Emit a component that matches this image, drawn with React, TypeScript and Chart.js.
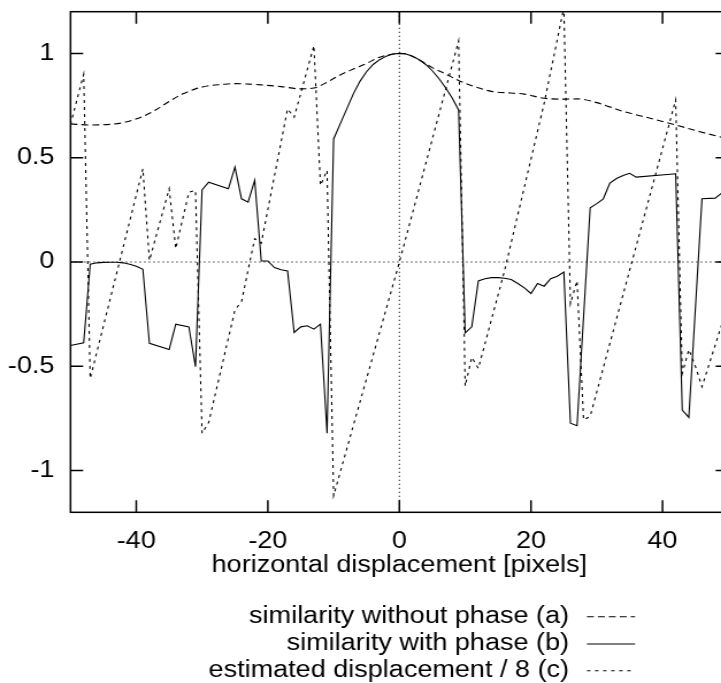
import React, { useEffect, useRef } from 'react';
import { Chart, registerables } from 'chart.js';

Chart.register(...registerables);

const FONT = '"Liberation Sans", Arial, Helvetica, sans-serif';
const STRETCH = 1.15; // the reference text is wider than it is tall

const X_TICKS = [-40, -20, 0, 20, 40];
const Y_TICKS = [-1, -0.5, 0, 0.5, 1];
const X_TITLE = 'horizontal displacement [pixels]';

const SERIES_LABELS = [
  'similarity without phase (a)',
  'similarity with phase (b)',
  'estimated displacement / 8 (c)',
];

// (a) similarity without phase
const xA = [-50, -47, -44, -42, -39, -37, -35, -33, -31, -29, -27, -25, -23, -21, -18, -15, -13, -11, -9, -7, -5, -3, -1, 0, 1, 3, 5, 7, 9, 11, 14, 17, 19, 22, 25, 27, 30, 34, 38, 42, 46, 50];
const yA = [0.662, 0.657, 0.66, 0.668, 0.698, 0.73, 0.77, 0.805, 0.83, 0.845, 0.851, 0.855, 0.853, 0.849, 0.841, 0.83, 0.834, 0.862, 0.897, 0.925, 0.952, 0.982, 0.997, 1.0, 0.998, 0.968, 0.932, 0.902, 0.87, 0.845, 0.818, 0.81, 0.805, 0.785, 0.781, 0.782, 0.764, 0.722, 0.69, 0.657, 0.622, 0.59];

// (b) similarity with phase
const xB = [
  -50, -48, -47, -46, -45, -44, -43, -42, -41, -40,
  -39, -38, -35, -34, -32, -31, -30, -29, -26, -25,
  -24, -23, -22, -21, -20, -19, -18, -17, -16, -15,
  -14, -13, -12, -11, -10, -9, -8, -7, -6, -5,
  -4, -3, -2, -1, 0, 1, 2, 3, 4, 5,
  6, 7, 8, 9, 10, 11, 12, 13, 14, 15,
  16, 17, 18, 19, 20, 21, 22, 23, 24, 25,
  26, 27, 29, 30, 31, 32, 33, 34, 35, 36,
  42, 43, 44, 46, 48, 49, 50,
];
const yB = [
  -0.4, -0.387, -0.011, -0.004, -0.002, -0.001, -0.001, -0.004, -0.011, -0.02,
  -0.035, -0.39, -0.42, -0.298, -0.311, -0.502, 0.346, 0.383, 0.351, 0.455,
  0.303, 0.287, 0.391, 0.005, 0.005, -0.027, -0.037, -0.043, -0.338, -0.311,
  -0.306, -0.322, -0.298, -0.821, 0.59, 0.662, 0.734, 0.806, 0.866, 0.912,
  0.947, 0.97, 0.987, 0.997, 1.0, 0.997, 0.987, 0.97, 0.947, 0.917,
  0.88, 0.837, 0.787, 0.729, -0.34, -0.311, -0.091, -0.08, -0.075, -0.075,
  -0.078, -0.084, -0.103, -0.124, -0.151, -0.103, -0.116, -0.08, -0.068, -0.048,
  -0.773, -0.785, 0.26, 0.28, 0.303, 0.378, 0.4, 0.415, 0.425, 0.407,
  0.423, -0.71, -0.745, 0.303, 0.306, 0.33, 0.35,
];

// (c) estimated displacement / 8
const xC = [
  -50, -48, -47, -39, -38, -35, -34, -32, -31, -30,
  -29, -25, -24, -22, -21, -17, -16, -13, -12, -11,
  -10, 0, 9, 10, 11, 12, 16, 22, 25, 26,
  27, 28, 29, 42, 43, 44, 45, 46, 49, 50,
];
const yC = [
  0.66, 0.9, -0.558, 0.447, 0.008, 0.351, 0.064, 0.335, 0.343, -0.821,
  -0.77, -0.23, -0.19, 0.112, 0.09, 0.734, 0.694, 1.037, 0.367, 0.439,
  -1.12, 0.0, 1.06, -0.595, -0.457, -0.51, -0.04, 0.76, 1.22, -0.2,
  -0.09, -0.757, -0.74, 0.777, -0.534, -0.42, -0.5, -0.598, -0.3, -0.2,
];

const DASH_A = [6, 3.5];
const DASH_C = [3, 4];

const toPoints = (xs: number[], ys: number[]) => xs.map((x, i) => ({ x, y: ys[i] }));

// dotted zero axes under the data, gnuplot-style frame and inward ticks on top
const framePlugin = {
  id: 'frame',
  beforeDatasetsDraw(chart: any) {
    const { ctx, chartArea: a, scales } = chart;
    const x0 = scales.x.getPixelForValue(0);
    const y0 = scales.y.getPixelForValue(0);
    ctx.save();
    ctx.strokeStyle = '#222';
    ctx.lineWidth = 1;
    ctx.setLineDash([1.3, 2.7]);
    ctx.beginPath();
    ctx.moveTo(a.left, y0);
    ctx.lineTo(a.right, y0);
    ctx.moveTo(x0, a.top);
    ctx.lineTo(x0, a.bottom);
    ctx.stroke();
    ctx.restore();
  },
  afterDatasetsDraw(chart: any) {
    const { ctx, chartArea: a, scales } = chart;
    ctx.save();
    ctx.strokeStyle = '#000';
    ctx.lineWidth = 1.5;
    ctx.setLineDash([]);
    ctx.strokeRect(a.left, a.top, a.right - a.left, a.bottom - a.top);
    ctx.beginPath();
    X_TICKS.forEach((v) => {
      const px = scales.x.getPixelForValue(v);
      ctx.moveTo(px, a.bottom);
      ctx.lineTo(px, a.bottom - 12);
      ctx.moveTo(px, a.top);
      ctx.lineTo(px, a.top + 12);
    });
    Y_TICKS.forEach((v) => {
      const py = scales.y.getPixelForValue(v);
      ctx.moveTo(a.left, py);
      ctx.lineTo(a.left + 11, py);
      ctx.moveTo(a.right, py);
      ctx.lineTo(a.right - 11, py);
    });
    ctx.stroke();
    ctx.restore();
  },
};

// key below the plot: text right-aligned, line sample to its right
const keyPlugin = {
  id: 'key',
  afterDraw(chart: any) {
    const { ctx } = chart;
    const textRight = 494.8;
    const lineFrom = 510.4;
    const lineTo = 552.2;
    const rows = [616.7, 644, 670.7];
    ctx.save();
    ctx.font = `23.5px ${FONT}`;
    ctx.fillStyle = '#000';
    ctx.textAlign = 'right';
    ctx.textBaseline = 'middle';
    chart.data.datasets.forEach((ds: any, i: number) => {
      ctx.fillText(ds.label, textRight, rows[i]);
      ctx.strokeStyle = '#000';
      ctx.lineWidth = 1.1;
      ctx.setLineDash(ds.borderDash || []);
      ctx.beginPath();
      ctx.moveTo(lineFrom, rows[i]);
      ctx.lineTo(lineTo, rows[i]);
      ctx.stroke();
    });
    ctx.restore();
  },
};

export default function App() {
  const canvasRef = useRef<HTMLCanvasElement>(null);

  useEffect(() => {
    if (!canvasRef.current) return;
    const tickFont = { family: FONT, size: 23.5 };

    const chart = new Chart(canvasRef.current, {
      type: 'line',
      data: {
        datasets: [
          {
            label: SERIES_LABELS[0],
            data: toPoints(xA, yA),
            borderColor: '#000',
            borderWidth: 1.1,
            borderDash: DASH_A,
            pointRadius: 0,
            cubicInterpolationMode: 'monotone',
            clip: 0,
          },
          {
            label: SERIES_LABELS[1],
            data: toPoints(xB, yB),
            borderColor: '#000',
            borderWidth: 1.1,
            pointRadius: 0,
            tension: 0,
            clip: 0,
          },
          {
            label: SERIES_LABELS[2],
            data: toPoints(xC, yC),
            borderColor: '#000',
            borderWidth: 1.1,
            borderDash: DASH_C,
            pointRadius: 0,
            tension: 0,
            clip: 0,
          },
        ],
      },
      options: {
        animation: false,
        responsive: false,
        events: [],
        layout: { padding: { top: 11.7, left: 0, right: 26.7, bottom: 103.2 } },
        plugins: {
          legend: { display: false },
          tooltip: { enabled: false },
        },
        scales: {
          x: {
            type: 'linear',
            min: -50,
            max: 50,
            grid: { display: false, drawTicks: false },
            border: { display: false },
            ticks: {
              color: '#000',
              font: tickFont,
              padding: 15.4,
              maxRotation: 0,
              callback: (v: any) => String(v),
            },
            afterBuildTicks: (s: any) => {
              s.ticks = X_TICKS.map((value) => ({ value }));
            },
            afterFit: (s: any) => {
              s.height = 67.5;
              s.paddingLeft = 0;
              s.paddingRight = 0;
            },
            title: {
              display: true,
              text: X_TITLE,
              color: '#000',
              font: tickFont,
              padding: 0,
            },
          },
          y: {
            type: 'linear',
            min: -1.2,
            max: 1.2,
            grid: { display: false, drawTicks: false },
            border: { display: false },
            ticks: {
              color: '#000',
              font: tickFont,
              padding: 14,
              callback: (v: any) => String(v),
            },
            afterBuildTicks: (s: any) => {
              s.ticks = Y_TICKS.map((value) => ({ value }));
            },
            afterFit: (s: any) => {
              s.width = 61.3;
              s.paddingTop = 0;
              s.paddingBottom = 0;
            },
          },
        },
      },
      plugins: [framePlugin, keyPlugin],
    } as any);

    return () => chart.destroy();
  }, []);

  return (
    <div
      style={{
        position: 'fixed',
        left: 0,
        top: 0,
        width: 721,
        height: 683,
        overflow: 'hidden',
        background: '#fff',
      }}
    >
      <div style={{ width: 660, height: 683, transform: `scaleX(${STRETCH})`, transformOrigin: '0 0' }}>
        <canvas ref={canvasRef} width={660} height={683} style={{ display: 'block' }} />
      </div>
    </div>
  );
}
